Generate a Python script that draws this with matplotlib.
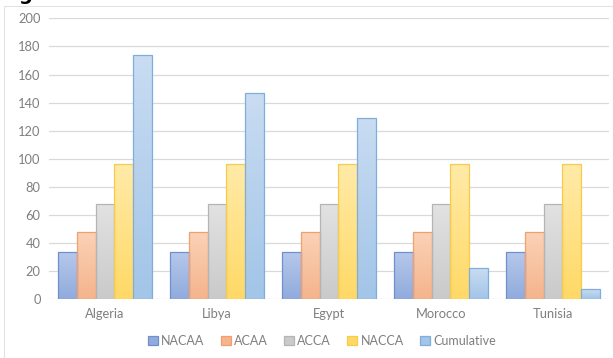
import matplotlib
matplotlib.use("Agg")
import matplotlib.pyplot as plt
import numpy as np
from matplotlib.colors import LinearSegmentedColormap
from matplotlib.patches import Rectangle

categories = ["Algeria", "Libya", "Egypt", "Morocco", "Tunisia"]
series_names = ["NACAA", "ACAA", "ACCA", "NACCA", "Cumulative"]
nacaa = [34, 34, 34, 34, 34]
acaa = [48, 48, 48, 48, 48]
acca = [68, 68, 68, 68, 68]
nacca = [96, 96, 96, 96, 96]
cumulative = [174, 147, 129, 22, 7]
y_ticks = [0, 20, 40, 60, 80, 100, 120, 140, 160, 180, 200]

series = [nacaa, acaa, acca, nacca, cumulative]
edge_colors = ["#6f8fce", "#f0a070", "#b4b4b4", "#f7cc4a", "#7fadde"]
top_colors = ["#b7c9ea", "#fbd2b6", "#e2e2e2", "#ffeaa8", "#c9dcf2"]
bot_colors = ["#91abdd", "#f5b48c", "#cacaca", "#ffd966", "#a2c5e8"]

plt.rcParams['font.family'] = ['Lato', 'DejaVu Sans']

fig = plt.figure(figsize=(6.13, 3.58), dpi=100)
ax = fig.add_axes([49/613, 1-299.3/358, 560/613, (299.3-18.3)/358])

n = len(series)
x = np.arange(len(categories))
group_w = 0.84
bw = group_w / n
for i, (vals, ec, tc, bc) in enumerate(zip(series, edge_colors, top_colors, bot_colors)):
    offs = x - group_w/2 + bw*(i+0.5)
    bars = ax.bar(offs, vals, width=bw, facecolor="none", edgecolor=ec, linewidth=0.9, zorder=3)
    cmap = LinearSegmentedColormap.from_list("g%d" % i, [bc, tc])
    grad = np.linspace(0, 1, 64).reshape(-1, 1)
    for b in bars:
        bx, by = b.get_x(), b.get_y()
        w, h = b.get_width(), b.get_height()
        im = ax.imshow(grad, extent=[bx, bx+w, by, by+h], origin="lower",
                       cmap=cmap, aspect="auto", zorder=2, interpolation="bilinear")
        im.set_clip_path(b)

ax.set_xlim(-0.5, len(categories)-0.5)
ax.set_ylim(0, 200)
ax.set_yticks(y_ticks)
ax.set_xticks(x)
ax.set_xticklabels(categories)
ax.yaxis.grid(True, color="#d9d9d9", linewidth=0.9, zorder=0)
ax.set_axisbelow(True)
for s in ax.spines.values():
    s.set_visible(False)
ax.tick_params(axis="both", length=0, labelsize=9.3, colors="#7f7f7f")
ax.tick_params(axis="y", pad=6)
ax.tick_params(axis="x", pad=6)

handles = [Rectangle((0, 0), 1, 1, facecolor=bc, edgecolor=ec, linewidth=0.9)
           for ec, bc in zip(edge_colors, bot_colors)]
leg = fig.legend(handles, series_names, loc="center", bbox_to_anchor=(322/613, 1-341/358),
                 ncol=5, frameon=False, fontsize=9, handlelength=0.8, handleheight=0.8,
                 handletextpad=0.25, columnspacing=1.3)
for t in leg.get_texts():
    t.set_color("#7f7f7f")

# faint chart frame
fig.patches.append(Rectangle((4/613, -0.1), 1.0, 1 - 6/358 + 0.1, transform=fig.transFigure,
                             fill=False, edgecolor="#e3e3e3", linewidth=0.8))
# cropped caption remnant at top-left
fig.text(18/613, 1 - 0.3/358, "g", fontsize=14, fontweight="bold", color="black",
         va="baseline", ha="left", family="DejaVu Sans")

fig.savefig("out.png", dpi=100)
